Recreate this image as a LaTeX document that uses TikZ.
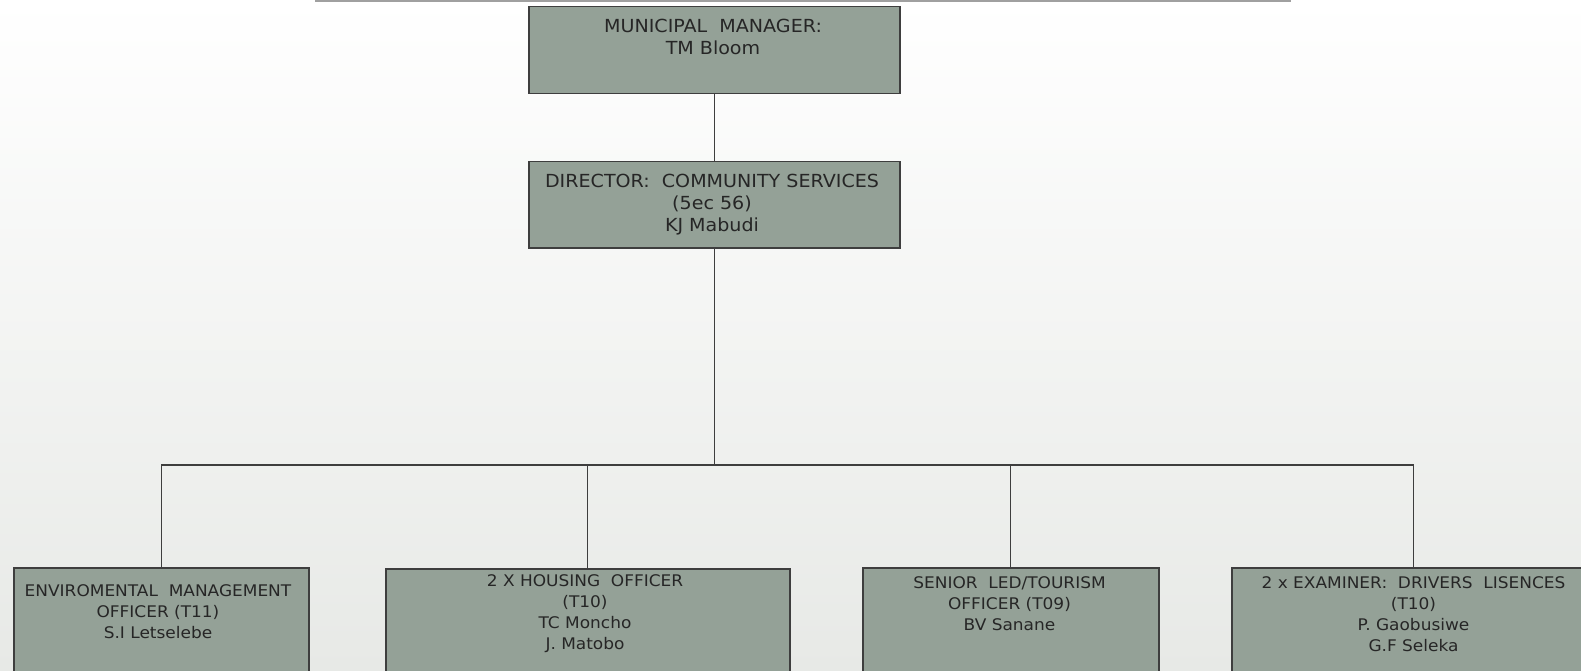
\documentclass[tikz,border=0pt]{standalone}
\usepackage{fontspec}
\setmainfont{DejaVu Sans}[FakeStretch=1.06]
\definecolor{boxfill}{RGB}{148,161,151}
\definecolor{boxline}{RGB}{62,62,62}
\definecolor{txt}{RGB}{38,38,38}
\definecolor{bgbot}{RGB}{231,233,230}
\definecolor{topline}{RGB}{160,160,160}
\begin{document}
\begin{tikzpicture}[x=1pt,y=-1pt,
  box/.style={draw=boxline, line width=1.5pt, fill=boxfill, rectangle, inner sep=0pt, anchor=north west},
  toptext/.style={anchor=north, inner sep=0pt, align=center, text=txt, font=\fontsize{18}{22.3}\selectfont},
  bottext/.style={anchor=north, inner sep=0pt, align=center, text=txt, font=\fontsize{16}{21}\selectfont},
  link/.style={draw=boxline, line width=1.4pt}]
\useasboundingbox (0,0) rectangle (1581,671);
\clip (0,0) rectangle (1581,671);
\shade[top color=white, bottom color=bgbot] (0,0) rectangle (1581,671);
\draw[line width=2pt, draw=topline] (315,0.8) -- (1291,0.8);

% boxes
\node[box, minimum width=371pt, minimum height=87pt] (mm) at (528,6) {};
\node[box, minimum width=371pt, minimum height=86pt] (dir) at (528,161) {};
\node[box, minimum width=295pt, minimum height=140pt] (b1) at (13,567) {};
\node[box, minimum width=404pt, minimum height=140pt] (b2) at (385,568) {};
\node[box, minimum width=296pt, minimum height=140pt] (b3) at (862,567) {};
\node[box, minimum width=364pt, minimum height=140pt] (b4) at (1231,567) {};

% texts
\node[toptext] (mmt) at (713,16.4) {\strut MUNICIPAL\ \ MANAGER:\\TM Bloom};
\node[toptext] (dirt) at (712,171.4) {\strut DIRECTOR:\ \ COMMUNITY SERVICES\\(5ec 56)\\KJ Mabudi};
\node[bottext] (b1t) at (158,581.3) {\strut ENVIROMENTAL\ \ MANAGEMENT\\OFFICER (T11)\\S.I Letselebe};
\node[bottext] (b2t) at (585,571.3) {\strut 2 X HOUSING\ \ OFFICER\\(T10)\\TC Moncho\\J. Matobo};
\node[bottext] (b3t) at (1009.5,573.3) {\strut SENIOR\ \ LED/TOURISM\\OFFICER (T09)\\BV Sanane};
\node[bottext] (b4t) at (1413.5,573.3) {\strut 2 x EXAMINER:\ \ DRIVERS\ \ LISENCES\\(T10)\\P. Gaobusiwe\\G.F Seleka};

% connectors
\coordinate (bar) at (714,465);
\draw[link] (mm.south) -- (dir.north);
\draw[link] (dir.south) -- (dir.south |- bar);
\draw[link] (b1.north) -- (b1.north |- bar) -- (b4.north |- bar) -- (b4.north);
\draw[link] (b2.north) -- (b2.north |- bar);
\draw[link] (b3.north) -- (b3.north |- bar);
\end{tikzpicture}
\end{document}
